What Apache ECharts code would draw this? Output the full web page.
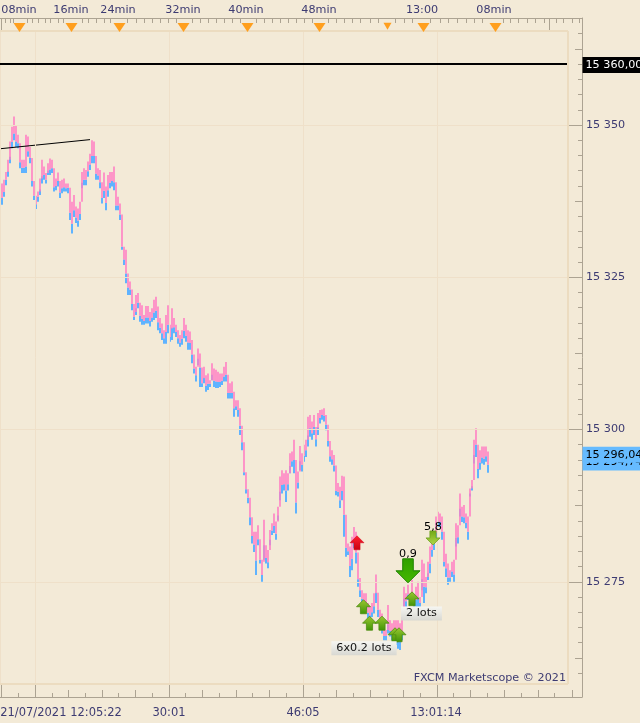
<!DOCTYPE html>
<html><head><meta charset="utf-8">
<style>html,body{margin:0;padding:0;background:#f3ead7}#c{width:640px;height:723px}</style>
<script src="https://cdn.jsdelivr.net/npm/echarts@6/dist/echarts.min.js"></script>
</head><body><div id="c"></div>
<script>
const askHigh=[15340.1,15340.4,15341.0,15342.3,15344.3,15347.3,15349.7,15351.4,15350.0,15348.4,
15346.4,15344.3,15344.3,15348.4,15348.1,15346.4,15342.3,15339.3,15338.2,15339.1,
15341.2,15344.3,15343.2,15342.1,15343.7,15344.5,15344.3,15341.2,15341.2,15342.2,
15340.7,15341.0,15341.2,15340.4,15340.4,15338.2,15337.4,15338.5,15336.6,15336.3,
15337.4,15342.3,15342.9,15342.6,15344.0,15345.3,15347.5,15347.3,15344.3,15342.9,
15342.6,15339.9,15342.2,15339.9,15341.8,15342.3,15342.3,15343.2,15338.2,15338.2,
15337.1,15331.1,15329.5,15329.5,15325.4,15324.3,15322.6,15319.3,15322.1,15322.4,
15320.4,15320.4,15318.8,15320.3,15320.3,15319.3,15319.9,15321.3,15321.8,15320.2,
15318.3,15317.4,15316.3,15318.8,15320.4,15316.6,15319.9,15318.3,15317.2,15316.3,
15315.5,15316.3,15318.3,15317.2,15316.3,15316.1,15314.7,15311.1,15310.3,15313.3,
15312.5,15308.4,15310.3,15308.9,15309.2,15308.1,15310.9,15310.0,15309.8,15309.5,
15309.2,15309.2,15310.3,15311.1,15307.6,15307.6,15307.9,15306.2,15304.8,15304.8,
15303.5,15299.9,15293.9,15291.7,15290.1,15288.1,15284.6,15283.2,15283.2,15284.3,
15279.4,15278.3,15285.2,15280.5,15280.2,15283.5,15284.6,15286.2,15284.9,15287.3,
15292.3,15293.3,15292.8,15293.3,15292.8,15296.1,15296.4,15298.3,15295.0,15293.1,
15297.3,15296.1,15297.5,15298.3,15302.1,15302.4,15301.3,15302.4,15300.2,15302.7,
15303.2,15303.3,15303.5,15302.4,15299.6,15297.2,15296.6,15295.8,15291.2,15291.2,
15290.6,15292.4,15292.3,15283.2,15281.3,15280.8,15282.4,15284.0,15283.2,15277.5,
15275.6,15273.6,15273.1,15273.1,15271.5,15270.9,15271.5,15273.1,15276.2,15272.8,
15270.1,15269.8,15267.1,15267.1,15271.2,15268.7,15268.2,15268.7,15268.7,15268.7,
15268.2,15269.2,15274.2,15273.1,15274.5,15273.1,15275.3,15272.5,15274.2,15275.0,
15272.5,15278.6,15278.0,15275.8,15278.3,15280.8,15281.9,15283.0,15285.7,15286.5,
15286.2,15285.7,15279.6,15279.6,15278.0,15276.9,15278.3,15278.6,15284.6,15284.3,
15289.5,15287.3,15287.6,15286.2,15285.7,15290.3,15291.7,15298.3,15300.2,15296.1,
15296.6,15297.2,15297.2,15297.2,15296.4];
const askLow=[15338.0,15338.0,15339.0,15341.0,15342.4,15344.8,15347.2,15348.6,15347.3,15347.0,
15343.9,15343.0,15343.0,15343.2,15345.7,15344.6,15340.8,15338.4,15337.0,15338.2,
15339.4,15341.6,15341.8,15341.0,15342.5,15342.7,15342.9,15339.8,15340.0,15340.8,
15338.9,15339.6,15339.8,15339.6,15339.7,15335.6,15333.8,15336.0,15334.8,15334.3,
15335.4,15340.5,15341.0,15341.0,15342.4,15343.5,15344.9,15344.9,15342.0,15341.7,
15340.6,15338.0,15339.2,15337.2,15339.3,15340.5,15340.8,15340.6,15336.8,15336.8,
15335.3,15330.0,15327.9,15325.6,15323.3,15323.0,15320.6,15318.5,15319.9,15320.8,
15318.7,15318.2,15317.8,15318.4,15318.4,15317.8,15318.4,15319.2,15319.5,15317.6,
15316.7,15315.8,15315.0,15316.0,15317.2,15315.2,15316.7,15316.8,15316.0,15315.0,
15314.3,15314.9,15316.2,15315.4,15314.3,15314.2,15312.3,15310.0,15308.9,15311.6,
15310.2,15307.6,15308.5,15307.2,15307.5,15307.5,15309.0,15308.0,15307.9,15307.8,
15307.8,15308.0,15308.7,15309.0,15306.0,15306.0,15306.0,15303.5,15303.8,15303.2,
15300.6,15297.9,15293.0,15290.2,15288.8,15285.6,15282.5,15281.1,15278.5,15282.0,
15278.6,15276.1,15281.0,15278.9,15278.2,15281.9,15283.4,15284.2,15282.9,15285.9,
15289.8,15290.9,15291.0,15290.0,15291.0,15294.0,15294.8,15295.0,15288.0,15291.3,
15294.8,15294.2,15295.7,15296.6,15299.0,15300.2,15299.4,15300.4,15298.4,15300.4,
15301.9,15302.4,15302.2,15300.8,15298.1,15295.6,15295.1,15294.1,15289.9,15289.8,
15288.4,15289.9,15286.0,15280.6,15280.0,15277.6,15278.8,15281.8,15279.8,15275.4,
15273.6,15272.2,15271.8,15271.4,15269.9,15269.5,15270.0,15271.0,15273.2,15270.4,
15268.5,15267.7,15266.1,15266.1,15268.0,15266.9,15266.4,15266.3,15266.1,15265.7,
15265.4,15266.8,15272.2,15271.8,15272.9,15272.0,15273.0,15271.5,15272.0,15272.4,
15271.5,15275.4,15274.2,15274.1,15276.4,15278.0,15280.2,15281.2,15283.2,15284.9,
15284.8,15283.2,15278.3,15277.2,15275.7,15275.7,15276.7,15276.2,15282.2,15282.3,
15287.0,15285.7,15285.6,15284.7,15283.2,15289.5,15290.7,15295.8,15297.5,15293.5,
15294.6,15295.4,15295.2,15295.6,15294.2];
const bidLow=[15337.0,15336.9,15338.2,15340.1,15341.5,15343.7,15346.2,15347.5,15346.4,15346.2,
15342.9,15342.1,15342.1,15342.1,15344.8,15343.7,15339.9,15337.7,15336.2,15337.4,
15338.5,15340.4,15341.0,15340.4,15341.8,15341.8,15342.1,15339.1,15339.3,15339.9,
15338.0,15338.8,15339.1,15339.1,15338.8,15334.4,15332.2,15334.9,15333.9,15333.3,
15334.4,15339.6,15340.1,15340.1,15341.5,15342.6,15343.7,15343.7,15341.0,15341.0,
15339.6,15337.1,15338.0,15336.0,15338.2,15339.6,15339.9,15339.3,15336.0,15336.0,
15334.4,15329.5,15327.0,15324.0,15322.1,15322.1,15319.6,15318.0,15318.8,15319.9,
15317.7,15317.2,15317.2,15317.4,15317.4,15316.9,15317.7,15318.0,15318.3,15316.3,
15315.8,15314.7,15314.1,15314.1,15315.8,15314.4,15314.7,15315.8,15315.2,15314.1,
15313.6,15313.9,15315.0,15314.4,15313.1,15313.1,15310.9,15309.2,15307.9,15310.6,
15307.0,15307.0,15307.6,15306.2,15306.5,15307.0,15308.1,15307.0,15306.8,15306.8,
15307.0,15307.3,15307.9,15307.9,15305.1,15305.1,15305.1,15302.1,15303.2,15302.1,
15299.1,15296.6,15292.5,15289.5,15287.9,15284.3,15281.3,15279.9,15276.1,15281.0,
15278.0,15275.0,15278.6,15278.0,15277.2,15281.0,15282.7,15283.0,15281.9,15285.1,
15288.4,15289.5,15290.0,15288.1,15290.0,15292.8,15293.9,15292.8,15286.2,15290.3,
15293.3,15293.1,15294.7,15295.5,15297.2,15298.8,15298.3,15299.1,15297.2,15299.1,
15301.0,15301.6,15301.3,15299.9,15297.2,15294.7,15294.2,15293.1,15289.2,15289.0,
15287.1,15288.4,15282.4,15279.1,15279.4,15275.8,15276.9,15280.5,15278.0,15274.2,
15272.5,15271.5,15270.9,15270.4,15269.0,15268.7,15269.2,15269.8,15271.5,15269.2,
15267.6,15266.5,15265.4,15265.4,15266.5,15266.0,15265.4,15264.9,15264.6,15264.0,
15263.8,15265.4,15270.9,15270.9,15272.0,15271.5,15271.5,15270.9,15270.9,15270.9,
15270.9,15273.6,15271.5,15273.1,15275.3,15276.4,15279.1,15280.2,15281.9,15284.0,
15284.0,15281.9,15277.5,15275.8,15274.5,15275.0,15275.8,15275.0,15280.8,15281.3,
15285.7,15284.8,15284.6,15283.8,15281.9,15289.0,15290.0,15294.4,15295.5,15292.0,
15293.4,15294.4,15294.2,15294.7,15292.9];

const BAR_STEP=2;
const xMin=0,xMax=582,yMin=15256.08,yMax=15367.57;
const plotRight=568, yPlotTop=15365.43, yPlotBottom=15258.2;
const gridX=[0.5,35.5,169.5,303.5,437.5];
const gridY=[15350,15325,15300,15275];
const supportLevel=15360;
const trendX=[0,90], trendY=[15346.1,15347.6];
const yMajor=[15350,15325,15300,15275];
const yMedium=[15362.5,15337.5,15312.5,15287.5,15262.5];
const yMinor=[15365,15360,15357.5,15355,15352.5,15347.5,15345,15342.5,15340,15335,15332.5,15330,15327.5,15322.5,15320,15317.5,15315,15310,15307.5,15305,15302.5,15297.5,15295,15292.5,15290,15285,15282.5,15280,15277.5,15272.5,15270,15267.5,15265,15260];
const topLabelX=[19,71,118,183,246,319,422,494];
const topLabels=['08min','16min','24min','32min','40min','48min','13:00','08min'];
const topTriangles=[19.5,71.5,119.5,183.5,247.5,319.5,423.5,495.5];
const topSmallTriangle=[387.5];
const topMinor=[5,10,13,27,32,38,45,50,58,63,82,88,96,104,110,127,136,144,152,160,168,176,192,200,208,216,224,232,240,256,264,272,280,288,296,304,312,328,336,344,352,360,370,378,395,404,412,430,440,448,457,466,474,482,503,510,518,527,535,544,556,563,572,579];
const topTall=[1,549];
const bottomLabelX=[61,169,303,436];
const bottomLabels=['21/07/2021 12:05:22','30:01','46:05','13:01:14'];
const bottomMajor=[1,35.5,169.5,303.5,437];
const bottomMedium=[68,102,135,202,236,269,336,370,403,470,504,538,572];
const bottomShort=[18,52,85,118,152,185,219,252,286,319,353,387,420,453,487,521,554];
const upArrows=[[363.5,15270.9],[369.5,15268.2],[382,15268.2],[395,15266.3],[399,15266.3],[412,15272.2]];
const redArrow=[[357,15281.4]];
const bigDown=[[408,15276.8]];
const smallDown=[[433,15282.2]];
const lotBoxes=[[421.5,15269.8,'2 lots'],[364,15264.1,'6x0.2 lots']];
const bidPrice=15296.04, bidText='15 296,04', askPrice=15294.74, askText='15 294,74', levelText='15 360,00';
const watermark='FXCM Marketscope © 2021';

const FONT='"DejaVu Sans"', FS=11.2, TXT='#3d3b72', AX='#aca392', GRID='#efe0c9', FRAME='#ecdcc0';
const UP='path://M5,0 L10,5 L7.2,5 L7.2,10 L2.8,10 L2.8,5 L0,5 Z';
const DOWN='path://M2.8,0 L7.2,0 L7.2,5 L10,5 L5,10 L0,5 L2.8,5 Z';
const grad=(a,b)=>({type:'linear',x:0,y:0,x2:0,y2:1,colorStops:[{offset:0,color:a},{offset:1,color:b}]});

function barSeries(name,hi,lo,color,w,connect){
  return {name,type:'custom',z:3,silent:true,clip:false,
    data:hi.map((h,i)=>{
      let top=h,bot=lo[i];
      if(connect&&i>0){ top=Math.max(top,lo[i-1]); bot=Math.min(bot,hi[i-1]); }
      return [i*BAR_STEP,top,bot];
    }),
    encode:{x:0,y:[1,2]},
    renderItem(p,api){
      const a=api.coord([api.value(0),api.value(1)]), b=api.coord([api.value(0),api.value(2)]);
      return {type:'rect',shape:{x:a[0]-w/2,y:a[1],width:w,height:Math.max(1,b[1]-a[1])},style:{fill:color}};
    }};
}
function xAx(extra){return Object.assign({type:'value',min:xMin,max:xMax,splitLine:{show:false},axisLabel:{show:false},axisLine:{show:false,onZero:false},axisTick:{show:false}},extra);}
function yAx(extra){return Object.assign({type:'value',min:yMin,max:yMax,position:'right',splitLine:{show:false},axisLabel:{show:false},axisLine:{show:false,onZero:false},axisTick:{show:false}},extra);}
const lbl={color:TXT,fontFamily:FONT,fontSize:FS};
const tick=(vals,len)=>({show:true,inside:true,length:len,customValues:vals,lineStyle:{color:AX,width:1}});
const line=(c,w)=>({color:c,width:w,type:'solid'});
const axLine={show:true,onZero:false,lineStyle:line(AX,1)};
const hidden={color:'transparent',opacity:0};
const badge=(bg,fg)=>({show:true,position:'right',distance:0,formatter:'{b}',color:fg,fontFamily:FONT,fontSize:FS,backgroundColor:bg,padding:[2,6,1,3],lineHeight:13,opacity:1,offset:[0,1]});

const option={
  animation:false,backgroundColor:'#f3ead7',
  title:{text:watermark,right:74,top:673,padding:0,textStyle:{color:TXT,fontFamily:FONT,fontSize:FS,fontWeight:'normal'}},
  grid:{left:0,right:58,top:18,bottom:26,containLabel:false,outerBoundsMode:'none'},
  xAxis:[
    xAx({position:'bottom',axisLine:axLine,axisTick:tick(bottomMajor,13),
      axisLabel:{show:true,customValues:bottomLabelX,margin:10,hideOverlap:false,showMinLabel:true,showMaxLabel:true,...lbl,fontSize:11.5,
        formatter:v=>bottomLabels[bottomLabelX.indexOf(v)]||''}}),
    xAx({position:'bottom',axisTick:tick(bottomMedium,7)}),
    xAx({position:'bottom',axisTick:tick(bottomShort,4)}),
    xAx({position:'top',axisLine:axLine,axisTick:tick(topTall,13),
      axisLabel:{show:true,customValues:topLabelX,margin:2,hideOverlap:false,...lbl,
        formatter:v=>topLabels[topLabelX.indexOf(v)]||''}}),
    xAx({position:'top',axisTick:tick(topMinor,5)})
  ],
  yAxis:[
    yAx({axisLine:axLine,axisTick:tick(yMajor,14),
      axisLabel:{show:true,customValues:yMajor,margin:4,padding:[2,0,0,0],...lbl,formatter:v=>String(v).replace(/^(\d\d)(\d{3})$/,'$1 $2')}}),
    yAx({axisTick:tick(yMedium,7)}),
    yAx({axisTick:tick(yMinor,4)})
  ],
  series:[
    {type:'line',data:[],z:1,silent:true,markLine:{silent:true,symbol:'none',animation:false,label:{show:false},
      data:[
        ...gridX.map(x=>[{coord:[x,yPlotTop],lineStyle:line(GRID,1)},{coord:[x,yPlotBottom]}]),
        ...gridY.map(y=>[{coord:[0,y],lineStyle:line(GRID,1)},{coord:[plotRight,y]}]),
        [{coord:[0,yPlotTop],lineStyle:line(FRAME,2)},{coord:[plotRight,yPlotTop]}],
        [{coord:[0,yPlotBottom],lineStyle:line(FRAME,2)},{coord:[plotRight,yPlotBottom]}],
        [{coord:[plotRight,yPlotTop],lineStyle:line(FRAME,2)},{coord:[plotRight,yPlotBottom]}]
      ]}},
    {type:'scatter',data:[],z:1,silent:true,markLine:{silent:true,symbol:'none',animation:false,label:{show:false},
      data:[[{coord:[0,supportLevel],lineStyle:line('#000',2)},{coord:[plotRight-1,supportLevel]}]]}},
    barSeries('bid',askLow,bidLow,'#5fb3ff',2,false),
    barSeries('ask',askHigh,askLow,'#ff80c4',1.6,true),
    {type:'line',z:4,silent:true,symbol:'none',lineStyle:{color:'#000',width:1},data:trendX.map((x,i)=>[x,trendY[i]])},
    {type:'scatter',z:5,silent:true,symbol:'triangle',symbolRotate:180,symbolSize:[12,9],itemStyle:{color:'#ff9f1e',opacity:1},
      data:topTriangles.map(x=>[x,15366.0])},
    {type:'scatter',z:5,silent:true,symbol:'triangle',symbolRotate:180,symbolSize:[8,7],itemStyle:{color:'#ff9f1e',opacity:1},
      data:topSmallTriangle.map(x=>[x,15366.2])},
    {type:'scatter',z:6,silent:true,symbol:UP,symbolSize:[14,14],
      itemStyle:{color:grad('#9cc832','#3f9406'),borderColor:'#4e8c10',borderWidth:0.8,opacity:1},data:upArrows},
    {type:'scatter',z:6,silent:true,symbol:UP,symbolSize:[14,14],
      itemStyle:{color:grad('#ff2030','#c80010'),borderColor:'#d00018',borderWidth:0.5,opacity:1},data:redArrow},
    {type:'scatter',z:6,silent:true,symbol:DOWN,symbolSize:[24,24],
      itemStyle:{color:grad('#2f9f00','#45b800'),borderColor:'#1e8200',borderWidth:1,opacity:1},data:bigDown,
      label:{show:true,position:'top',distance:-1,formatter:'0,9',color:'#000',fontFamily:FONT,fontSize:FS}},
    {type:'scatter',z:6,silent:true,symbol:DOWN,symbolSize:[14,14],
      itemStyle:{color:grad('#6ea814','#b4d84a'),borderColor:'#6f9f20',borderWidth:0.8,opacity:1},data:smallDown,
      label:{show:true,position:'top',distance:-2,formatter:'5,8',color:'#000',fontFamily:FONT,fontSize:FS}},
    {type:'scatter',z:7,silent:true,clip:false,symbolSize:1,itemStyle:hidden,data:lotBoxes.map(b=>({value:[b[0],b[1]],name:b[2]})),
      label:{show:true,position:'inside',formatter:'{b}',color:'#111',fontFamily:FONT,fontSize:FS,padding:[2,5,0,5],lineHeight:12,opacity:1,
        backgroundColor:grad('#f6f6f2','#d8d8d2')}},
    {type:'scatter',z:8,silent:true,clip:false,symbolSize:1,itemStyle:hidden,data:[{value:[xMax,askPrice],name:askText}],label:badge('#66bbff','#000')},
    {type:'scatter',z:9,silent:true,clip:false,symbolSize:1,itemStyle:hidden,data:[{value:[xMax,bidPrice],name:bidText}],label:badge('#66bbff','#000')},
    {type:'scatter',z:9,silent:true,clip:false,symbolSize:1,itemStyle:hidden,data:[{value:[xMax,supportLevel],name:levelText}],label:badge('#000','#fff')}
  ]
};
echarts.init(document.getElementById('c'),null,{renderer:'canvas'}).setOption(option);
</script></body></html>
